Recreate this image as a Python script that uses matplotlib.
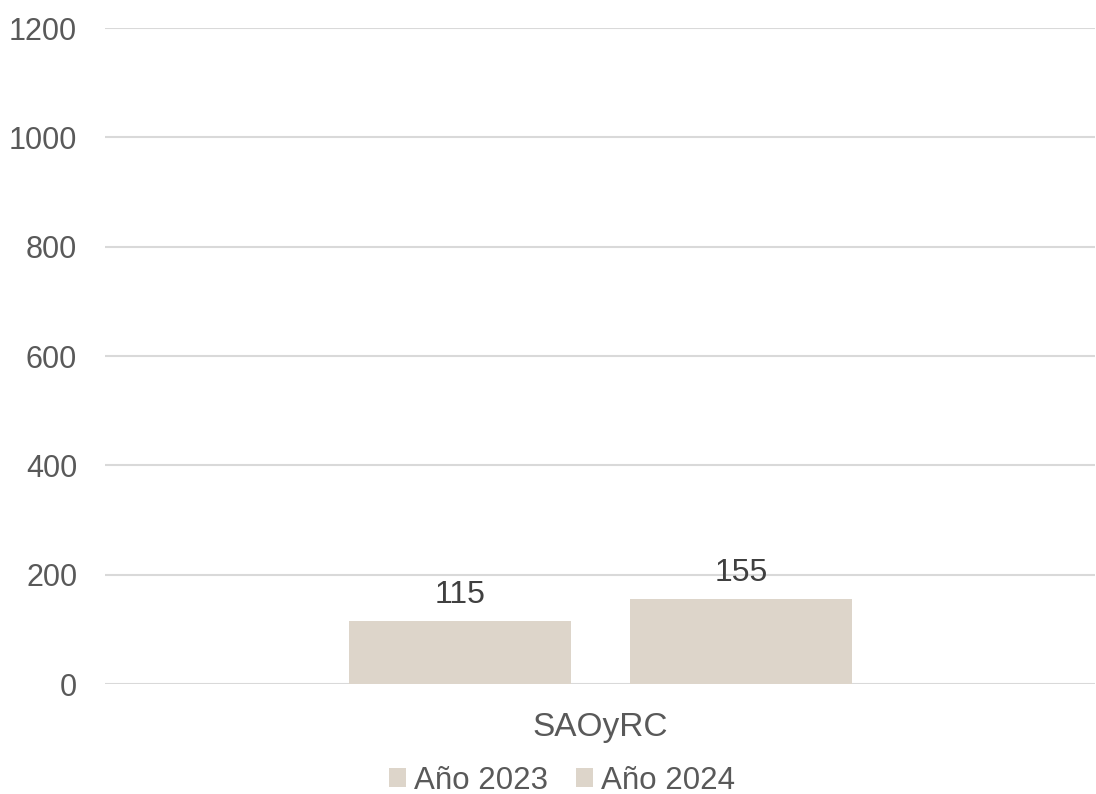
import matplotlib.pyplot as plt

plt.rcParams['font.family'] = ['Liberation Sans', 'DejaVu Sans']

categories = ['SAOyRC']
series_names = ['Año 2023', 'Año 2024']
values = [115, 155]
bar_color = '#DDD5CA'

fig = plt.figure(figsize=(10.96, 7.94), dpi=100)
ax = fig.add_axes([0.0958, 0.1385, 0.903, 0.8262])

width = 0.224
offsets = [-0.1414, 0.1424]
for name, v, off in zip(series_names, values, offsets):
    b = ax.bar(0 + off, v, width=width, color=bar_color, label=name, zorder=3)
    ax.bar_label(b, labels=[str(v)], padding=8, fontsize=23, color='#404040')

ax.set_xlim(-0.5, 0.5)
ax.set_ylim(0, 1200)
ax.set_yticks(range(0, 1201, 200))
ax.set_xticks([0])
ax.set_xticklabels(categories)
ax.tick_params(axis='both', length=0, colors='#595959')
ax.tick_params(axis='y', pad=20, labelsize=22)
ax.tick_params(axis='x', pad=20, labelsize=24)

ax.grid(axis='y', color='#D9D9D9', linewidth=1.5, zorder=0)
for s in ax.spines.values():
    s.set_visible(False)

leg = fig.legend(loc='center', bbox_to_anchor=(0.513, 0.017), ncol=2, frameon=False,
                 fontsize=22.5, handlelength=0.55, handleheight=0.55, handletextpad=0.25,
                 columnspacing=0.9, labelcolor='#595959')

fig.savefig('out.png', dpi=100)
